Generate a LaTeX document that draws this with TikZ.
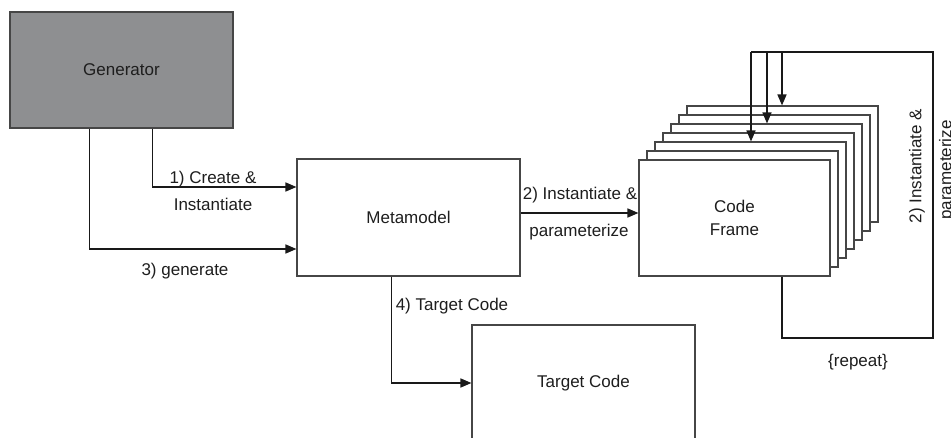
\documentclass[tikz,border=0pt]{standalone}
\usepackage{fontspec}
\setmainfont{Liberation Sans}
\usetikzlibrary{arrows.meta,calc}
\definecolor{genfill}{RGB}{142,143,145}
\definecolor{boxline}{RGB}{70,70,70}
\definecolor{txt}{RGB}{30,30,30}
\tikzset{
  box/.style={draw=boxline,line width=1.1pt,rectangle,inner sep=0pt,text=txt,align=center},
  arr/.style={draw=black!90,line width=1.6pt,-{Triangle[length=11pt,width=9pt]}},
  lin/.style={draw=black!90,line width=1.6pt},
  lbl/.style={text=txt,inner sep=0pt,align=center}
}
\begin{document}
\begin{tikzpicture}[x=1pt,y=-1pt,font=\fontsize{17}{30}\selectfont]
\useasboundingbox (0,0) rectangle (951,438);
\clip (0,0) rectangle (951,438);
\fill[white] (0,0) rectangle (951,438);
% boxes
\node[box,fill=genfill,minimum width=223pt,minimum height=116pt] (gen) at (121.5,70) {Generator};
\node[box,minimum width=223pt,minimum height=117pt] (meta) at (408.5,217.5) {Metamodel};
\foreach \k in {6,5,...,1}{
  \node[box,fill=white,minimum width=191pt,minimum height=116pt] (cf\k) at (734.5+8*\k,218-9*\k) {};
}
\node[box,fill=white,minimum width=191pt,minimum height=116pt] (cf) at (734.5,218) {Code\\[-7pt]Frame};
\node[box,minimum width=223pt,minimum height=116pt] (target) at (583.5,383) {Target Code};
% connectors
\draw[arr] ([xshift=143pt]gen.south west) |- ([yshift=30.5pt]meta.west);
\draw[arr] ([xshift=80pt]gen.south west) |- ([yshift=-31.5pt]meta.west);
\draw[arr] ([yshift=5pt]cf.west -| meta.east) -- ([yshift=5pt]cf.west);
\draw[arr] ([xshift=95pt]meta.south west) |- (target.west);
% loop
\coordinate (l1) at (782,338);
\coordinate (l2) at (933,338);
\coordinate (l3) at (933,52);
\coordinate (l4) at (751,52);
\coordinate (l5) at (767,52);
\coordinate (l6) at (782,52);
\draw[lin] (cf.south -| l1) -- (l1) -- (l2) -- (l3) -- (l4);
\draw[arr] (l4) -- (cf2.north -| l4);
\draw[arr] (l5) -- (cf4.north -| l5);
\draw[arr] (l6) -- (cf6.north -| l6);
% labels
\node[lbl] (t1a) at (213,179) {1) Create \&};
\node[lbl] (t1b) at (213,204) {Instantiate};
\node[lbl] (t3) at (185,271) {3) generate};
\node[lbl] (t2a) at (580,195) {2) Instantiate \&};
\node[lbl] (t2b) at (579,232) {parameterize};
\node[lbl] (t4) at (452,306) {4) Target Code};
\node[lbl,rotate=90] (t5a) at (917,166) {2) Instantiate \&};
\node[lbl,rotate=90] (t5b) at (947,170) {parameterize};
\node[lbl] (rep) at (858,362) {\{repeat\}};
\end{tikzpicture}
\end{document}
